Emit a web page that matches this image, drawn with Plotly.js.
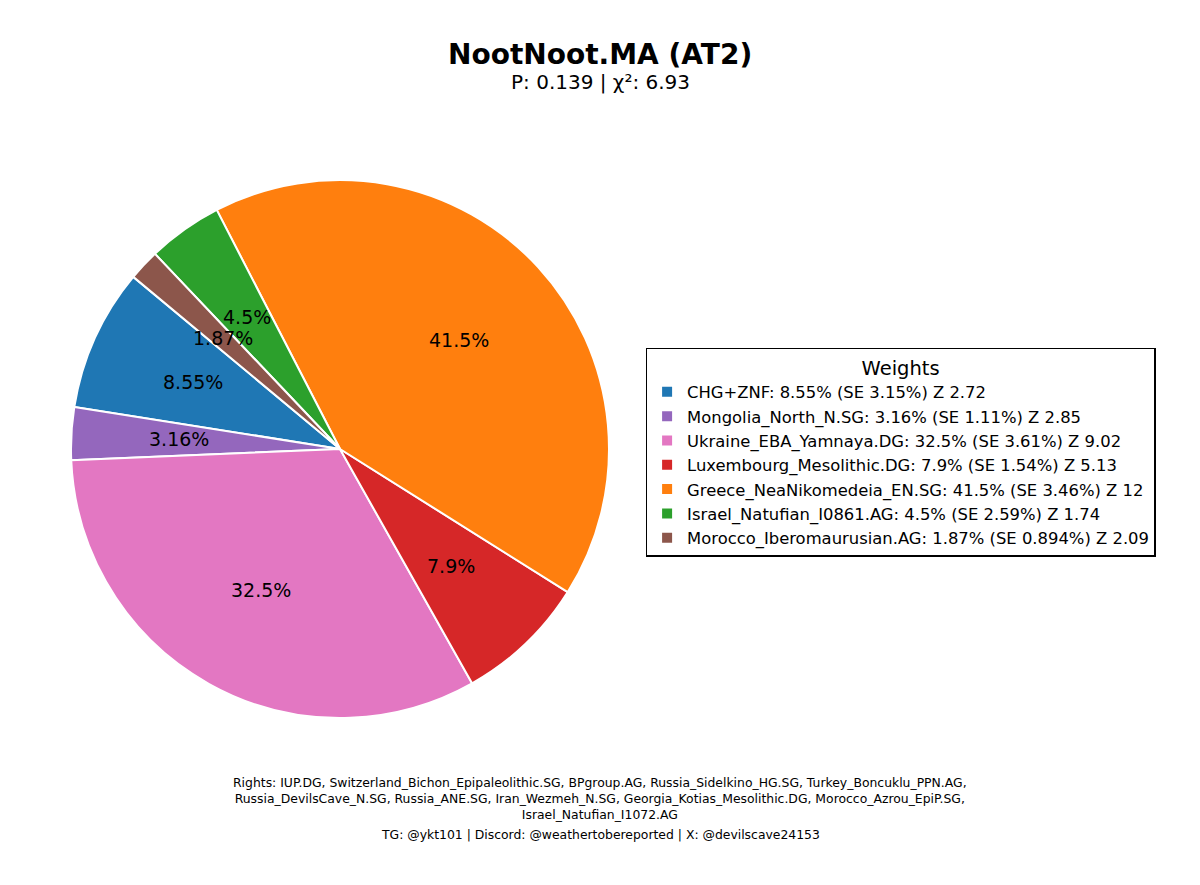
<!DOCTYPE html>
<html>
<head>
<meta charset="utf-8">
<script src="https://cdn.plot.ly/plotly-3.0.1.min.js"></script>
<style>body{margin:0;background:#fff}</style>
</head>
<body>
<div id="plot" style="width:1200px;height:885px"></div>
<script>
// sources and their weights
const sources = ["CHG+ZNF", "Mongolia_North_N.SG", "Ukraine_EBA_Yamnaya.DG", "Luxembourg_Mesolithic.DG",
  "Greece_NeaNikomedeia_EN.SG", "Israel_Natufian_I0861.AG", "Morocco_Iberomaurusian.AG"];
const weights = [8.55, 3.16, 32.5, 7.9, 41.5, 4.5, 1.87];
const se = ["3.15", "1.11", "3.61", "1.54", "3.46", "2.59", "0.894"];
const zscores = ["2.72", "2.85", "9.02", "5.13", "12", "1.74", "2.09"];
const colors = ["#1f77b4", "#9467bd", "#e377c2", "#d62728", "#ff7f0e", "#2ca02c", "#8c564b"];

const labels = sources.map((s, i) => s + ": " + weights[i] + "% (SE " + se[i] + "%) Z " + zscores[i]);
const font = "DejaVu Sans, sans-serif";
const W = 1200, H = 885;
const cx = 340, cy = 449, R = 269, startAngle = 140;

const data = [{
  type: "pie",
  labels: labels,
  values: weights,
  textinfo: "none",
  sort: false,
  direction: "counterclockwise",
  rotation: -81,
  marker: {colors: colors, line: {color: "white", width: 2}},
  domain: {x: [(cx - R) / W, (cx + R) / W], y: [1 - (cy + R) / H, 1 - (cy - R) / H]},
  hoverinfo: "none"
}];

// percentage labels at 0.6 radius, like matplotlib autopct
const total = weights.reduce((a, b) => a + b, 0);
let acc = 0;
const pctAnn = weights.map(w => {
  const mid = (startAngle + 360 * (acc + w / 2) / total) * Math.PI / 180;
  acc += w;
  return {
    text: w + "%", xref: "paper", yref: "paper", showarrow: false,
    xanchor: "center", yanchor: "middle",
    x: (cx + 0.6 * R * Math.cos(mid)) / W, y: 1 - (cy - 0.6 * R * Math.sin(mid)) / H,
    font: {size: 19, color: "black"}
  };
});

function note(text, y, size, extra) {
  return Object.assign({text: text, x: 0.5, y: 1 - y / H, xref: "paper", yref: "paper",
    xanchor: "center", yanchor: "middle", showarrow: false, font: {size: size}}, extra || {});
}

const layout = {
  width: W, height: H,
  margin: {l: 0, r: 0, t: 0, b: 0},
  paper_bgcolor: "white",
  font: {family: font, color: "black"},
  showlegend: true,
  legend: {
    x: 0.538, y: 0.607, xanchor: "left", yanchor: "top",
    bordercolor: "black", borderwidth: 1.5,
    font: {size: 16.4, family: font},
    title: {text: "Weights", side: "top center", font: {size: 19.5, family: font}},
    tracegroupgap: 0
  },
  annotations: [
    note("<b>NootNoot.MA (AT2)</b>", 55, 28),
    note("P: 0.139 | χ²: 6.93", 82, 20),
    note("Rights: IUP.DG, Switzerland_Bichon_Epipaleolithic.SG, BPgroup.AG, Russia_Sidelkino_HG.SG, Turkey_Boncuklu_PPN.AG,<br>Russia_DevilsCave_N.SG, Russia_ANE.SG, Iran_Wezmeh_N.SG, Georgia_Kotias_Mesolithic.DG, Morocco_Azrou_EpiP.SG,<br>Israel_Natufian_I1072.AG", 798, 12.4),
    note("TG: @ykt101 | Discord: @weathertobereported | X: @devilscave24153", 834, 12.4)
  ].concat(pctAnn)
};

Plotly.newPlot("plot", data, layout, {displayModeBar: false});
</script>
</body>
</html>
